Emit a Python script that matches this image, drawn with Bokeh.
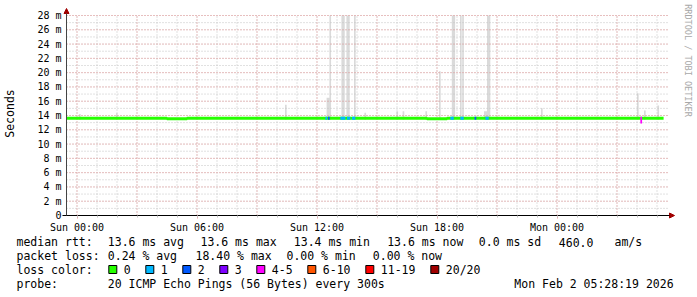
import math
from bokeh.plotting import figure
from bokeh.models import (Range1d, FixedTicker, Label, Arrow, NormalHead,
                          ColumnDataSource)
from bokeh.core.properties import value
from bokeh.embed import file_html
from bokeh.resources import INLINE

# ---------------- data ----------------
# time is expressed in hours relative to Sun 00:00
window_start_h = -31.5 / 60        # Sat 23:28
window_end_h = 30 - 31.5 / 60      # Mon 05:28
data_end_h = 29.33
step_min = 5

tick_hours = [0, 6, 12, 18, 24]
tick_labels = ["Sun 00:00", "Sun 06:00", "Sun 12:00", "Sun 18:00", "Mon 00:00"]
minor_hours = list(range(0, 30))
major_grid_hours = [0, 3, 6, 9, 12, 15, 18, 21, 24, 27]
y_ticks = [0, 2, 4, 6, 8, 10, 12, 14, 16, 18, 20, 22, 24, 26, 28]
y_tick_labels = ["0", "2 m", "4 m", "6 m", "8 m", "10 m", "12 m", "14 m", "16 m",
                 "18 m", "20 m", "22 m", "24 m", "26 m", "28 m"]
y_minor = list(range(0, 29))
y_top = 28

# hourly median rtt (ms)
median_start_h = [-0.53, 0.5, 1.5, 2.5, 3.5, 4.5, 5.5, 6.5, 7.5, 8.5, 9.5, 10.5,
                  11.5, 12.5, 13.5, 14.5, 15.5, 16.5, 17.5, 18.5, 19.5, 20.5,
                  21.5, 22.5, 23.5, 24.5, 25.5, 26.5, 27.5, 28.5]
median_ms = [13.6, 13.6, 13.6, 13.6, 13.6, 13.55, 13.6, 13.6, 13.6, 13.6, 13.6,
             13.6, 13.6, 13.6, 13.6, 13.6, 13.6, 13.6, 13.55, 13.6, 13.6, 13.6,
             13.6, 13.6, 13.6, 13.6, 13.6, 13.6, 13.6, 13.6]

# smoke (ping spread) excursions
spike_start_h = [0.10, 1.95, 10.40, 12.48, 12.62, 13.22, 13.47, 13.85, 14.37,
                 15.97, 16.28, 17.42, 18.10, 18.74, 19.15, 19.26, 20.35, 20.50,
                 23.20, 28.00, 28.17, 28.35, 29.02]
spike_steps = [1, 1, 1, 2, 1, 2, 2, 1, 1, 1, 1, 1, 1, 2, 1, 1, 2, 2, 1, 1, 1, 1, 1]
spike_low_ms = [13.4, 13.4, 13.4, 13.4, 13.4, 13.4, 13.4, 13.4, 13.4, 13.4, 13.4,
                13.4, 13.4, 13.4, 13.4, 13.4, 13.4, 13.4, 13.4, 13.4, 12.9, 13.4, 13.4]
spike_high_ms = [14.2, 14.3, 15.5, 16.5, 30.0, 30.0, 30.0, 30.0, 14.4, 14.6, 14.6,
                 14.6, 20.2, 30.0, 30.0, 30.0, 14.6, 30.0, 15.0, 17.1, 13.6, 14.7, 15.4]

# steps with packet loss (pings lost out of 20)
loss_start_h = [12.42, 12.55, 13.17, 13.50, 13.75, 18.67, 19.17, 19.88, 20.42, 28.17]
loss_steps = [1, 1, 3, 2, 2, 2, 2, 1, 2, 1]
loss_count = [1, 2, 1, 1, 1, 1, 1, 2, 1, 4]
loss_median_ms = [13.6, 13.6, 13.6, 13.6, 13.6, 13.6, 13.6, 13.6, 13.6, 13.1]

loss_bins = [0, 1, 2, 3, 5, 10, 19, 20]
loss_labels = ["0", "1", "2", "3", "4-5", "6-10", "11-19", "20/20"]
loss_colors = ["#26ff00", "#00b8ff", "#0059ff", "#7e00ff", "#ff00ff",
               "#ff5500", "#ff0000", "#a00000"]

rtt_names = ["avg", "max", "min", "now"]
rtt_values = [13.6, 13.6, 13.4, 13.6]
rtt_sd = 0.0
rtt_ams = 460.0
loss_names = ["avg", "max", "min", "now"]
loss_values = [0.24, 18.40, 0.00, 0.00]
probe_pings = 20
probe_bytes = 56
probe_step_s = 300
stamp_text = "Mon Feb  2 05:28:19 2026"
watermark = "RRDTOOL / TOBI OETIKER"

# ---------------- layout helpers (pixels -> data) ----------------
W, H = 697, 297
FRAME_L, FRAME_T, FRAME_W, FRAME_H = 66, 15, 600, 200
XS = FRAME_W / (window_end_h - window_start_h)   # px per hour
YS = FRAME_H / y_top                              # px per ms


def px2x(px):
    return window_start_h + (px - FRAME_L) / XS


def py2y(py):
    return (FRAME_T + FRAME_H - py) / YS


def loss_color(n):
    for b, c in zip(loss_bins, loss_colors):
        if n <= b:
            return c
    return loss_colors[-1]


def median_at(h):
    val = median_ms[0]
    for s, m in zip(median_start_h, median_ms):
        if h >= s:
            val = m
    return val


MONO = "DejaVu Sans Mono"
PINK = "#ec9c9c"
GRAY = "#c2c2c2"
DASH = "1 2"

p = figure(width=W, height=H, x_range=Range1d(px2x(0), px2x(W)),
           y_range=Range1d(py2y(H), py2y(0)), output_backend="svg",
           toolbar_location=None, min_border=0)
p.outline_line_color = None
p.background_fill_color = "white"
p.border_fill_color = "white"
p.xgrid.visible = False
p.ygrid.visible = False

# ---- grid (dotted), minor gray then major pink ----
p.segment(x0=minor_hours, x1=minor_hours, y0=[0] * len(minor_hours),
          y1=[y_top] * len(minor_hours), line_color=GRAY, line_dash=DASH, line_width=1)
p.segment(x0=[window_start_h] * len(y_minor), x1=[px2x(668)] * len(y_minor),
          y0=y_minor, y1=y_minor, line_color=GRAY, line_dash=DASH, line_width=1)
p.segment(x0=major_grid_hours, x1=major_grid_hours, y0=[0] * len(major_grid_hours),
          y1=[y_top] * len(major_grid_hours), line_color=PINK, line_dash=DASH,
          line_width=1)
p.segment(x0=[window_start_h] * len(y_ticks), x1=[px2x(668)] * len(y_ticks),
          y0=y_ticks, y1=y_ticks, line_color=PINK, line_dash=DASH, line_width=1)

# ---- smoke ----
sm = ColumnDataSource(dict(
    left=spike_start_h,
    right=[s + n * step_min / 60 for s, n in zip(spike_start_h, spike_steps)],
    bottom=spike_low_ms,
    top=[min(v, y_top) for v in spike_high_ms]))
r_smoke = p.quad(left="left", right="right", bottom="bottom", top="top", source=sm,
                 fill_color="#dadada", line_color=None)
r_smoke.level = "image"

# ---- median line (no loss) ----
p.step(x=median_start_h + [data_end_h], y=median_ms + [median_ms[-1]], mode="after",
       line_width=3, line_color=loss_colors[0])

ls = ColumnDataSource(dict(
    left=loss_start_h,
    right=[s + n * step_min / 60 for s, n in zip(loss_start_h, loss_steps)],
    bottom=[min(m, median_at(s)) - 0.21 for s, m in zip(loss_start_h, loss_median_ms)],
    top=[max(m, median_at(s)) + 0.21 for s, m in zip(loss_start_h, loss_median_ms)],
    color=[loss_color(n) for n in loss_count]))
p.quad(left="left", right="right", bottom="bottom", top="top", source=ls,
       fill_color="color", line_color=None)

# ---- axes, fixed on the graph area ----
xa = p.xaxis[0]
xa.fixed_location = 0
xa.bounds = (px2x(62), px2x(669))
xa.ticker = FixedTicker(ticks=tick_hours, minor_ticks=minor_hours)
xa.major_label_overrides = {h: t for h, t in zip(tick_hours, tick_labels)}
xa.axis_line_color = "black"
xa.major_tick_in = 0
xa.major_tick_out = 3
xa.major_tick_line_color = PINK
xa.minor_tick_in = 0
xa.minor_tick_out = 2
xa.minor_tick_line_color = GRAY
xa.major_label_standoff = 3
xa.major_label_text_font = MONO
xa.major_label_text_font_size = "10px"
xa.major_label_text_color = "black"

ya = p.yaxis[0]
ya.fixed_location = window_start_h
ya.bounds = (0, py2y(11))
ya.ticker = FixedTicker(ticks=y_ticks, minor_ticks=y_minor)
ya.major_label_overrides = {v: t for v, t in zip(y_ticks, y_tick_labels)}
ya.axis_line_color = "#444444"
ya.major_tick_in = 0
ya.major_tick_out = 0
ya.minor_tick_in = 0
ya.minor_tick_out = 0
ya.major_label_standoff = 5
ya.major_label_text_font = MONO
ya.major_label_text_font_size = "10px"
ya.major_label_text_color = "black"
ya.axis_label = "Seconds"
ya.axis_label_text_font = MONO
ya.axis_label_text_font_size = "11.5px"
ya.axis_label_text_font_style = "normal"
ya.axis_label_text_color = "black"
ya.axis_label_standoff = 17

# axis arrow heads
p.add_layout(Arrow(x_start=px2x(664), y_start=0, x_end=px2x(674), y_end=0,
                   line_color="black", line_width=1,
                   end=NormalHead(size=5, fill_color="#a00000", line_color="#a00000")))
p.add_layout(Arrow(x_start=window_start_h, y_start=py2y(20), x_end=window_start_h,
                   y_end=py2y(8), line_color="#444444", line_width=1,
                   end=NormalHead(size=5, fill_color="#a00000", line_color="#a00000")))

# watermark
p.add_layout(Label(x=px2x(687), y=py2y(60), text=watermark, angle=-math.pi / 2,
                   text_align="center", text_baseline="middle", text_font=MONO,
                   text_font_size="8.5px", text_color="#a8a8a8"))

# ---------------- legend text ----------------
lx, ly, lt = [], [], []
L1, L2, L3, L4 = 241.7, 255.0, 269.3, 283.3
items1 = [(16, "median rtt:")] + list(zip(
    [107.3, 200, 293.3, 386.7],
    [f"{v:.1f} ms {n}" for v, n in zip(rtt_values, rtt_names)])) + \
    [(478.3, f"{rtt_sd:.1f} ms sd"), (558.3, f"{rtt_ams:.1f}"), (614, "am/s")]
for x, t in items1:
    lx.append(x); ly.append(L1); lt.append(t)
items2 = [(16, "packet loss:")] + list(zip(
    [107.3, 195, 286, 372.3],
    [f"{v:.2f} % {n}" for v, n in zip(loss_values, loss_names)]))
for x, t in items2:
    lx.append(x); ly.append(L2); lt.append(t)
lx.append(16); ly.append(L3); lt.append("loss color:")
bx = []
x = 108.3
for lab in loss_labels:
    bx.append(x + 4)
    lx.append(x + 15); ly.append(L3); lt.append(lab)
    x = x + 15 + 7 * len(lab) + 15
lx += [16, 107.3]; ly += [L4, L4]
lt += ["probe:", f"{probe_pings} ICMP Echo Pings ({probe_bytes} Bytes) every {probe_step_s}s"]

p.text(x=[px2x(v) for v in lx], y=[py2y(v) for v in ly], text=lt,
       text_font=value(MONO), text_font_size="11.5px", text_align="left",
       text_baseline="middle", text_color="black")
p.text(x=[px2x(680)], y=[py2y(L4)], text=[stamp_text], text_font=value(MONO),
       text_font_size="11.5px", text_align="right", text_baseline="middle",
       text_color="black")
p.rect(x=[px2x(v) for v in bx], y=[py2y(L3 - 0.3)] * len(bx), width=8, height=8,
       width_units="screen", height_units="screen", fill_color=loss_colors,
       line_color="black", line_width=1)

open("out.html", "w").write(file_html(p, INLINE))
